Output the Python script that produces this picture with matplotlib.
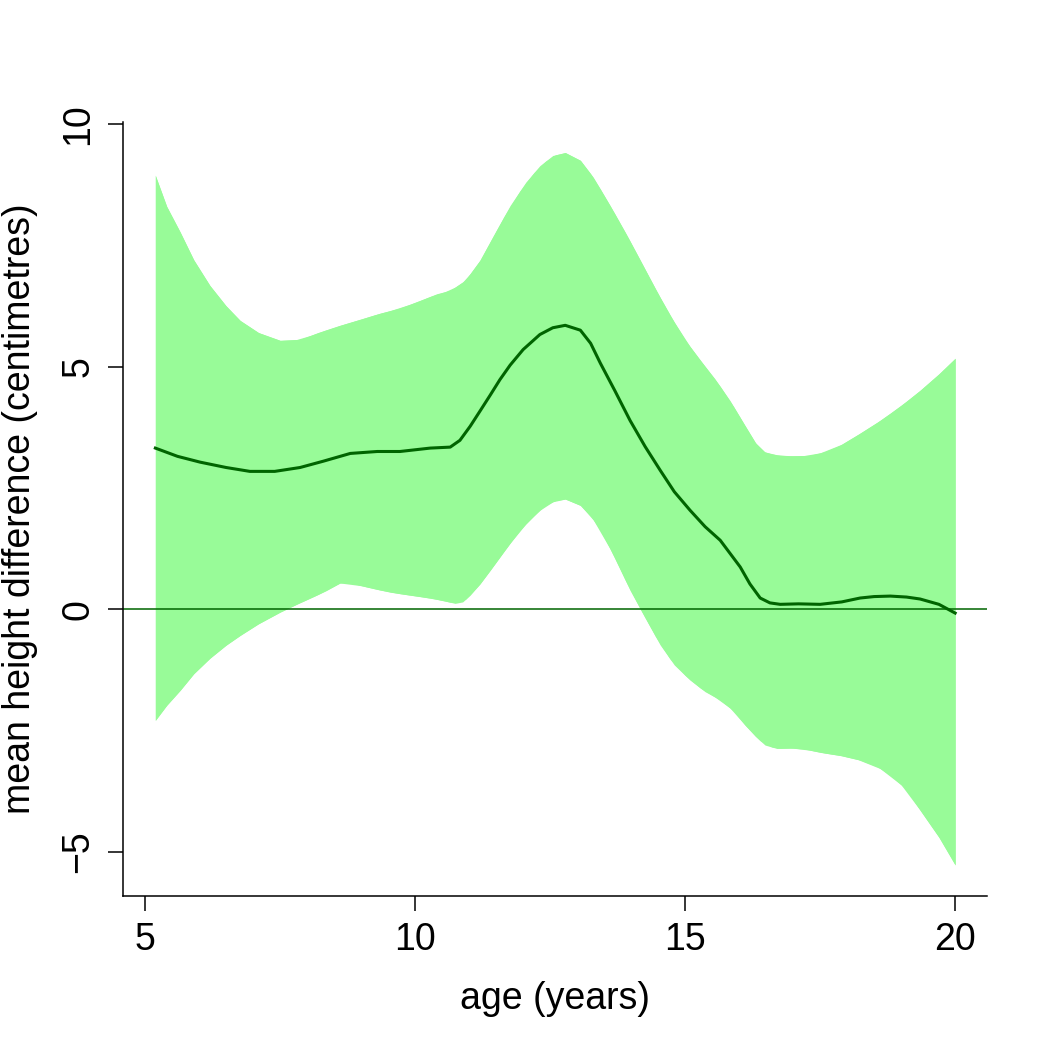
import numpy as np
import matplotlib.pyplot as plt

plt.rcParams['font.family'] = ['Liberation Sans', 'DejaVu Sans']

# mean curve
age_mean = [5.19, 5.6, 6.02, 6.5, 6.94, 7.4, 7.87, 8.3, 8.8, 9.3, 9.72, 10.28, 10.65,
            10.83, 11.02, 11.2, 11.39, 11.57, 11.76, 12.0, 12.31, 12.55, 12.78, 13.06,
            13.25, 13.43, 13.7, 13.98, 14.26, 14.54, 14.8, 15.09, 15.37, 15.65, 16.02,
            16.2, 16.39, 16.57, 16.76, 17.1, 17.5, 17.9, 18.24, 18.5, 18.8, 19.1, 19.35,
            19.7, 20.0]
mean_diff = [3.32, 3.15, 3.03, 2.92, 2.84, 2.84, 2.92, 3.05, 3.21, 3.25, 3.25, 3.32, 3.34,
             3.48, 3.77, 4.08, 4.41, 4.73, 5.03, 5.35, 5.66, 5.8, 5.85, 5.75,
             5.48, 5.07, 4.5, 3.89, 3.35, 2.86, 2.42, 2.04, 1.7, 1.42, 0.87,
             0.52, 0.23, 0.13, 0.10, 0.11, 0.10, 0.15, 0.23, 0.26, 0.27, 0.25, 0.21,
             0.10, -0.08]

# upper band
age_up = [5.19, 5.4, 5.65, 5.9, 6.2, 6.5, 6.76, 7.1, 7.5, 7.87, 8.2, 8.61, 9.0, 9.35,
          9.7, 10.09, 10.4, 10.65, 10.93, 11.2, 11.5, 11.76, 12.05, 12.31, 12.55, 12.78,
          13.06, 13.3, 13.61, 13.9, 14.17, 14.45, 14.72, 15.0, 15.28, 15.55, 15.83,
          16.1, 16.39, 16.6, 16.76, 17.0, 17.31, 17.6, 17.87, 18.2, 18.61, 19.0, 19.35,
          19.7, 20.0]
upper = [8.94, 8.3, 7.77, 7.2, 6.67, 6.25, 5.95, 5.7, 5.54, 5.56, 5.7, 5.85, 5.98, 6.1,
         6.2, 6.36, 6.5, 6.57, 6.78, 7.19, 7.8, 8.32, 8.8, 9.14, 9.35, 9.41,
         9.25, 8.9, 8.32, 7.75, 7.19, 6.6, 6.06, 5.55, 5.13, 4.75, 4.3,
         3.8, 3.27, 3.2, 3.17, 3.16, 3.17, 3.25, 3.38, 3.6, 3.89, 4.2, 4.51,
         4.85, 5.17]

# lower band
age_lo = [5.19, 5.4, 5.65, 5.9, 6.2, 6.5, 6.76, 7.1, 7.5, 7.8, 8.06, 8.35, 8.61, 8.8,
          8.98, 9.25, 9.54, 9.9, 10.28, 10.55, 10.74, 10.88, 11.02, 11.2, 11.39, 11.65,
          11.94, 12.2, 12.41, 12.6, 12.78, 13.06, 13.25, 13.43, 13.7, 13.98, 14.26,
          14.54, 14.8, 15.09, 15.37, 15.65, 15.9, 16.11, 16.3, 16.48, 16.7, 16.94, 17.2,
          17.5, 17.9, 18.24, 18.55, 18.8, 19.1, 19.35, 19.7, 20.0]
lower = [-2.29, -1.98, -1.67, -1.33, -1.01, -0.74, -0.54, -0.3, -0.06, 0.1, 0.23, 0.38, 0.54, 0.55,
         0.49, 0.42, 0.35, 0.29, 0.23, 0.17, 0.12, 0.15, 0.29, 0.52, 0.80, 1.2,
         1.63, 1.93, 2.14, 2.24, 2.27, 2.14, 1.92, 1.63, 1.05, 0.39, -0.18,
         -0.74, -1.15, -1.46, -1.7, -1.87, -2.1, -2.39, -2.62, -2.80, -2.87, -2.86, -2.88,
         -2.95, -3.02, -3.11, -3.24, -3.42, -3.72, -4.14, -4.7, -5.27]

fig = plt.figure(figsize=(10.5, 10.5), dpi=100)
ax = fig.add_axes([0.1171, 0.1467, 0.8229, 0.7371])

# band: fill on both x grids so no corners are cut
ax.fill_between(age_up, upper, np.interp(age_up, age_lo, lower), color='#98FB98', lw=0)
ax.fill_between(age_lo, np.interp(age_lo, age_up, upper), lower, color='#98FB98', lw=0)
ax.axhline(0, color='#006400', lw=1.1)
ax.plot(age_mean, mean_diff, color='#006400', lw=2.2, solid_joinstyle='round')

ax.set_xlim(4.59, 20.59)
ax.set_ylim(-5.91, 10.04)
ax.set_xticks([5, 10, 15, 20])
ax.set_yticks([-5, 0, 5, 10])
ax.set_yticklabels(['\u22125', '0', '5', '10'], rotation=90, va='center')
ax.spines['top'].set_visible(False)
ax.spines['right'].set_visible(False)
for s in ['left', 'bottom']:
    ax.spines[s].set_linewidth(1.1)
ax.tick_params(labelsize=27, length=11, width=1.1, pad=8)
ax.set_xlabel('age (years)', fontsize=27, labelpad=16)
ax.set_ylabel('mean height difference (centimetres)', fontsize=27, labelpad=16)

fig.savefig('out.png', dpi=100)
